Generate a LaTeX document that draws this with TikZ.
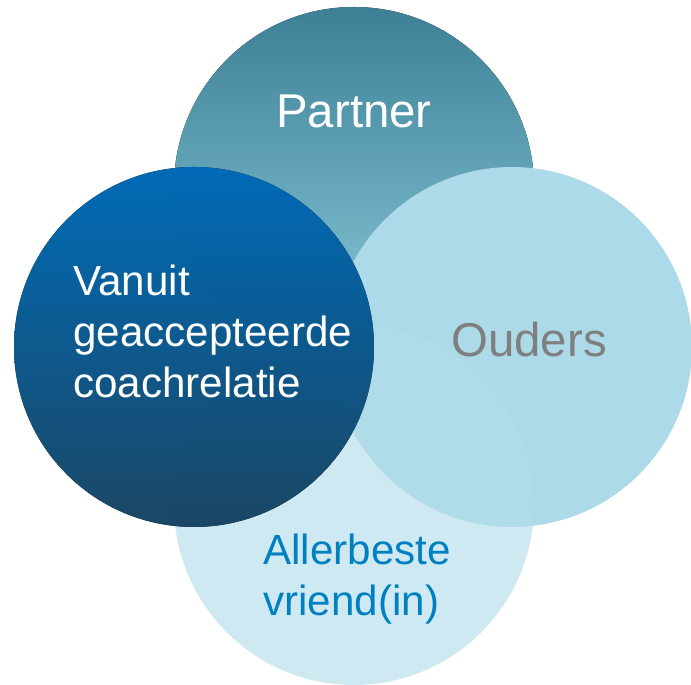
\documentclass[tikz,border=0pt]{standalone}
\usepackage{fontspec}
\setmainfont{Liberation Sans}
\definecolor{partnerTop}{RGB}{61,128,149}
\definecolor{partnerBot}{RGB}{141,205,223}
\definecolor{coachTop}{RGB}{0,112,192}
\definecolor{coachBot}{RGB}{28,74,105}
\definecolor{oudersFill}{RGB}{173,218,232}
\definecolor{vriendFill}{RGB}{178,220,234}
\definecolor{oudersText}{RGB}{127,127,127}
\definecolor{vriendText}{RGB}{0,128,192}
\begin{document}
\begin{tikzpicture}[x=0.02cm, y=0.02cm,
    bigfont/.style={font=\fontsize{27}{32}\selectfont},
    smallfont/.style={font=\fontsize{24}{29}\selectfont, align=left, inner sep=0pt}]
            \useasboundingbox (0,0) rectangle (691,685);
            % circles, back to front
            \fill[top color=partnerTop, bottom color=partnerBot] (354,498) circle (180);
            \fill[oudersFill] (512,338) circle (180);
            \fill[vriendFill, fill opacity=0.62] (354,180) circle (180);
            \fill[top color=coachTop, bottom color=coachBot, fill opacity=0.95] (194,338) circle (180);
            % labels
            \node[bigfont, white, anchor=base] (partner) at (354,557) {Partner};
            \node[bigfont, oudersText, anchor=base] (ouders) at (529,328) {Ouders};
            \node[smallfont, white, anchor=north west] (coach) at (73,420) {Vanuit\\geaccepteerde\\coachrelatie};
            \node[smallfont, vriendText, anchor=north west] (vriend) at (263,151) {Allerbeste\\vriend(in)};
        \end{tikzpicture}
\end{document}
